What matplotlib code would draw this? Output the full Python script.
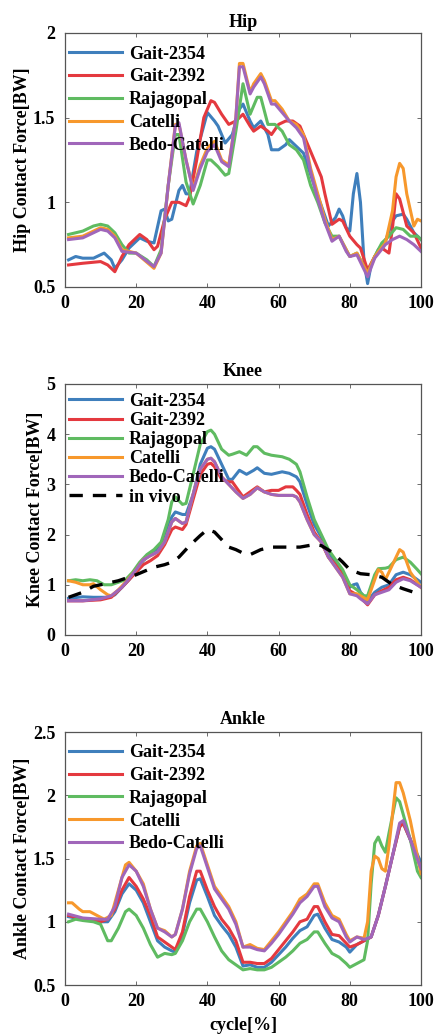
import matplotlib
matplotlib.use("Agg")
import matplotlib.pyplot as plt

plt.rcParams['font.family'] = ['Liberation Serif', 'DejaVu Serif']
plt.rcParams['font.weight'] = 'bold'

names = ['Gait-2354', 'Gait-2392', 'Rajagopal', 'Catelli', 'Bedo-Catelli']
colors = ['#3f7fbc', '#e4393f', '#5fbb61', '#f7982c', '#a066ba']

# ---- Hip ----
hip_blue_x = [1, 3, 5, 8, 10, 11, 13, 14, 16, 18, 21, 23, 25, 27, 28, 29, 30, 32, 33, 34, 35, 37, 40, 42, 43, 45, 47, 49, 50, 52, 53, 55, 57, 58, 60, 62, 63, 65, 67, 70, 72, 74, 76, 77, 78, 79, 80, 81, 82, 83, 84, 85, 86, 88, 90, 92, 93, 95, 96, 98, 100]
hip_blue_y = [0.66, 0.68, 0.67, 0.67, 0.69, 0.70, 0.66, 0.61, 0.66, 0.73, 0.79, 0.77, 0.76, 0.95, 0.96, 0.89, 0.90, 1.07, 1.10, 1.05, 1.05, 1.30, 1.53, 1.48, 1.45, 1.35, 1.40, 1.55, 1.58, 1.48, 1.44, 1.48, 1.40, 1.31, 1.31, 1.34, 1.37, 1.33, 1.29, 1.10, 0.98, 0.86, 0.91, 0.96, 0.92, 0.85, 0.83, 1.05, 1.17, 1.00, 0.65, 0.52, 0.63, 0.72, 0.77, 0.89, 0.92, 0.93, 0.90, 0.82, 0.78]
hip_red_x = [1, 5, 10, 12, 14, 16, 18, 21, 23, 25, 26, 28, 30, 32, 34, 35, 37, 39, 41, 42, 44, 46, 48, 50, 52, 53, 55, 57, 58, 60, 62, 64, 66, 68, 70, 72, 73, 75, 77, 78, 80, 82, 83, 85, 87, 89, 91, 92, 93, 94, 96, 98, 100]
hip_red_y = [0.63, 0.64, 0.65, 0.63, 0.59, 0.68, 0.75, 0.81, 0.78, 0.72, 0.74, 0.90, 1.00, 1.00, 0.98, 1.03, 1.25, 1.50, 1.60, 1.59, 1.52, 1.46, 1.48, 1.52, 1.45, 1.42, 1.45, 1.42, 1.40, 1.46, 1.48, 1.48, 1.45, 1.35, 1.25, 1.15, 1.05, 0.87, 0.90, 0.89, 0.80, 0.75, 0.73, 0.60, 0.68, 0.73, 0.70, 0.85, 1.05, 1.02, 0.86, 0.82, 0.73]
hip_green_x = [1, 5, 8, 10, 12, 14, 16, 18, 20, 23, 25, 27, 29, 31, 32, 34, 36, 38, 40, 41, 43, 45, 46, 48, 50, 52, 54, 55, 57, 59, 61, 63, 65, 67, 69, 71, 73, 75, 77, 79, 80, 82, 85, 87, 89, 91, 93, 95, 97, 99, 100]
hip_green_y = [0.81, 0.83, 0.86, 0.87, 0.86, 0.82, 0.75, 0.70, 0.70, 0.66, 0.62, 0.72, 1.10, 1.40, 1.40, 1.12, 0.99, 1.10, 1.25, 1.25, 1.21, 1.16, 1.17, 1.42, 1.70, 1.52, 1.62, 1.62, 1.46, 1.46, 1.42, 1.34, 1.31, 1.25, 1.10, 1.00, 0.88, 0.80, 0.80, 0.72, 0.68, 0.70, 0.58, 0.68, 0.76, 0.80, 0.85, 0.84, 0.80, 0.80, 0.78]
hip_orange_x = [1, 5, 10, 12, 14, 16, 20, 25, 27, 29, 31, 32, 34, 36, 38, 40, 42, 44, 46, 48, 49, 50, 52, 53, 55, 56, 58, 59, 61, 63, 65, 67, 69, 71, 73, 75, 77, 79, 80, 82, 85, 87, 90, 92, 93, 94, 95, 96, 98, 99, 100]
hip_orange_y = [0.79, 0.80, 0.85, 0.84, 0.80, 0.72, 0.70, 0.61, 0.70, 1.10, 1.46, 1.46, 1.25, 1.08, 1.22, 1.32, 1.36, 1.25, 1.22, 1.50, 1.82, 1.82, 1.65, 1.70, 1.76, 1.72, 1.60, 1.60, 1.55, 1.48, 1.46, 1.40, 1.20, 1.05, 0.90, 0.78, 0.80, 0.72, 0.68, 0.70, 0.58, 0.68, 0.76, 0.95, 1.15, 1.23, 1.20, 1.05, 0.86, 0.90, 0.89]
hip_purple_x = [1, 5, 10, 12, 14, 16, 20, 25, 27, 29, 31, 32, 34, 36, 38, 40, 42, 44, 46, 48, 49, 50, 52, 53, 55, 56, 58, 59, 61, 63, 65, 67, 69, 71, 73, 75, 77, 79, 80, 82, 85, 87, 90, 92, 94, 96, 98, 100]
hip_purple_y = [0.78, 0.79, 0.84, 0.83, 0.79, 0.71, 0.70, 0.62, 0.70, 1.10, 1.45, 1.47, 1.25, 1.07, 1.20, 1.30, 1.34, 1.24, 1.21, 1.50, 1.80, 1.80, 1.64, 1.68, 1.74, 1.70, 1.58, 1.58, 1.53, 1.48, 1.44, 1.38, 1.18, 1.02, 0.88, 0.77, 0.80, 0.71, 0.68, 0.69, 0.56, 0.67, 0.75, 0.78, 0.80, 0.78, 0.75, 0.71]

# ---- Knee ----
knee_blue_x = [1, 5, 8, 12, 14, 16, 18, 20, 22, 24, 26, 28, 30, 31, 33, 34, 36, 38, 40, 41, 42, 44, 46, 47, 49, 51, 53, 54, 56, 58, 61, 63, 65, 66, 68, 70, 72, 74, 76, 78, 80, 81, 82, 83, 85, 87, 89, 91, 93, 95, 97, 100]
knee_blue_y = [0.73, 0.76, 0.75, 0.75, 0.80, 0.95, 1.10, 1.30, 1.48, 1.60, 1.70, 1.95, 2.35, 2.45, 2.40, 2.40, 2.80, 3.40, 3.72, 3.75, 3.70, 3.40, 3.10, 3.10, 3.28, 3.20, 3.28, 3.33, 3.22, 3.20, 3.25, 3.22, 3.15, 3.05, 2.60, 2.20, 1.95, 1.65, 1.45, 1.25, 0.95, 1.00, 1.02, 0.85, 0.68, 0.85, 0.95, 1.00, 1.20, 1.25, 1.20, 1.05]
knee_red_x = [1, 5, 10, 13, 16, 18, 20, 22, 24, 26, 28, 30, 31, 33, 34, 36, 38, 40, 41, 42, 44, 46, 47, 49, 50, 52, 54, 56, 58, 60, 62, 64, 65, 66, 68, 70, 72, 74, 76, 78, 80, 82, 83, 85, 87, 89, 91, 93, 95, 97, 100]
knee_red_y = [0.68, 0.68, 0.70, 0.75, 0.95, 1.10, 1.25, 1.40, 1.48, 1.58, 1.80, 2.10, 2.15, 2.10, 2.20, 2.70, 3.20, 3.40, 3.42, 3.35, 3.10, 3.05, 3.05, 2.85, 2.75, 2.85, 2.95, 2.85, 2.88, 2.88, 2.95, 2.95, 2.88, 2.80, 2.40, 2.05, 1.85, 1.55, 1.40, 1.20, 0.88, 0.80, 0.75, 0.60, 0.80, 0.88, 0.95, 1.10, 1.15, 1.10, 0.95]
knee_green_x = [1, 3, 5, 7, 9, 11, 13, 15, 17, 19, 21, 23, 25, 27, 29, 30, 31, 33, 34, 36, 38, 40, 41, 42, 44, 46, 47, 49, 51, 53, 54, 56, 58, 61, 63, 65, 66, 68, 70, 72, 74, 76, 78, 80, 82, 84, 85, 87, 88, 90, 91, 93, 95, 97, 99, 100]
knee_green_y = [1.08, 1.10, 1.08, 1.10, 1.08, 1.00, 1.00, 1.05, 1.10, 1.25, 1.45, 1.60, 1.70, 1.85, 2.30, 2.65, 2.75, 2.60, 2.62, 3.20, 3.80, 4.05, 4.08, 4.00, 3.70, 3.58, 3.60, 3.65, 3.58, 3.75, 3.75, 3.62, 3.58, 3.55, 3.50, 3.40, 3.25, 2.75, 2.30, 2.00, 1.70, 1.50, 1.30, 1.00, 0.90, 0.78, 0.78, 1.20, 1.32, 1.33, 1.35, 1.50, 1.55, 1.45, 1.30, 1.22]
knee_orange_x = [1, 3, 5, 7, 8, 10, 12, 13, 15, 17, 20, 22, 24, 26, 28, 30, 31, 33, 34, 36, 38, 40, 41, 42, 44, 46, 48, 50, 52, 54, 56, 58, 60, 62, 64, 65, 66, 68, 70, 72, 74, 76, 78, 80, 82, 83, 85, 87, 88, 89, 90, 91, 93, 94, 95, 96, 97, 99, 100]
knee_orange_y = [1.08, 1.05, 1.00, 1.00, 1.02, 0.90, 0.80, 0.78, 0.90, 1.05, 1.30, 1.50, 1.58, 1.65, 1.85, 2.25, 2.32, 2.22, 2.25, 2.80, 3.30, 3.50, 3.52, 3.45, 3.15, 3.00, 2.85, 2.72, 2.80, 2.93, 2.85, 2.80, 2.78, 2.78, 2.78, 2.75, 2.65, 2.30, 2.00, 1.85, 1.55, 1.35, 1.15, 0.82, 0.82, 0.78, 0.70, 1.10, 1.30, 1.25, 1.10, 1.25, 1.55, 1.70, 1.65, 1.45, 1.25, 1.05, 0.95]
knee_purple_x = [1, 5, 10, 13, 16, 18, 20, 22, 24, 26, 28, 30, 31, 33, 34, 36, 38, 40, 41, 42, 44, 46, 48, 50, 52, 54, 56, 58, 60, 62, 64, 65, 66, 68, 70, 72, 74, 76, 78, 80, 82, 83, 85, 87, 89, 91, 93, 95, 97, 100]
knee_purple_y = [0.68, 0.68, 0.72, 0.78, 0.95, 1.12, 1.30, 1.50, 1.58, 1.65, 1.85, 2.25, 2.32, 2.22, 2.25, 2.80, 3.30, 3.50, 3.52, 3.45, 3.15, 3.00, 2.85, 2.72, 2.80, 2.93, 2.85, 2.80, 2.78, 2.78, 2.78, 2.75, 2.65, 2.30, 2.00, 1.85, 1.55, 1.35, 1.15, 0.82, 0.78, 0.72, 0.62, 0.80, 0.85, 0.90, 1.05, 1.12, 1.08, 0.95]
knee_vivo_x = [1, 5, 8, 10, 15, 20, 25, 28, 30, 32, 35, 38, 40, 42, 44, 46, 48, 50, 52, 55, 58, 62, 66, 70, 72, 75, 78, 80, 83, 86, 89, 92, 95, 98, 100]
knee_vivo_y = [0.75, 0.85, 0.97, 1.00, 1.08, 1.20, 1.35, 1.40, 1.45, 1.55, 1.78, 1.98, 2.10, 2.05, 1.90, 1.75, 1.70, 1.63, 1.60, 1.70, 1.75, 1.75, 1.75, 1.80, 1.78, 1.65, 1.45, 1.30, 1.22, 1.20, 1.15, 1.00, 0.92, 0.85, 0.80]

# ---- Ankle ----
ankle_blue_x = [1, 5, 10, 12, 14, 16, 18, 20, 22, 24, 26, 28, 30, 31, 33, 35, 37, 38, 40, 42, 44, 46, 48, 50, 52, 54, 56, 58, 60, 62, 64, 66, 68, 70, 71, 73, 75, 77, 79, 80, 82, 84, 86, 88, 90, 92, 94, 95, 97, 100]
ankle_blue_y = [1.04, 1.02, 1.00, 1.00, 1.08, 1.22, 1.30, 1.25, 1.15, 1.00, 0.85, 0.80, 0.77, 0.76, 0.90, 1.15, 1.33, 1.34, 1.20, 1.05, 0.97, 0.90, 0.80, 0.65, 0.66, 0.64, 0.64, 0.68, 0.74, 0.80, 0.87, 0.93, 0.96, 1.05, 1.06, 0.95, 0.86, 0.84, 0.80, 0.76, 0.82, 0.85, 0.88, 1.05, 1.28, 1.52, 1.75, 1.78, 1.65, 1.47]
ankle_red_x = [1, 5, 10, 12, 14, 16, 18, 20, 22, 24, 26, 28, 30, 31, 33, 35, 37, 38, 40, 42, 44, 46, 48, 50, 52, 54, 56, 58, 60, 62, 64, 66, 68, 70, 71, 73, 75, 77, 79, 80, 82, 84, 86, 88, 90, 92, 94, 95, 97, 100]
ankle_red_y = [1.05, 1.02, 1.00, 1.02, 1.10, 1.25, 1.35, 1.28, 1.18, 1.05, 0.88, 0.84, 0.80, 0.78, 0.92, 1.20, 1.40, 1.40, 1.25, 1.12, 1.02, 0.95, 0.85, 0.68, 0.68, 0.67, 0.67, 0.71, 0.78, 0.85, 0.92, 1.00, 1.02, 1.12, 1.12, 1.00, 0.90, 0.89, 0.83, 0.80, 0.82, 0.85, 0.88, 1.05, 1.28, 1.52, 1.75, 1.78, 1.65, 1.42]
ankle_green_x = [1, 3, 5, 8, 10, 12, 13, 15, 17, 18, 20, 22, 24, 26, 28, 30, 31, 33, 35, 37, 38, 40, 42, 44, 46, 48, 50, 52, 54, 56, 58, 60, 62, 64, 66, 68, 70, 71, 73, 75, 77, 79, 80, 82, 84, 85, 86, 87, 88, 89, 90, 91, 93, 94, 95, 97, 99, 100]
ankle_green_y = [1.00, 1.02, 1.01, 1.00, 0.98, 0.85, 0.85, 0.95, 1.08, 1.10, 1.05, 0.95, 0.82, 0.72, 0.75, 0.74, 0.75, 0.85, 1.00, 1.10, 1.10, 1.00, 0.88, 0.77, 0.70, 0.66, 0.62, 0.63, 0.62, 0.62, 0.64, 0.68, 0.72, 0.77, 0.83, 0.86, 0.92, 0.92, 0.83, 0.75, 0.72, 0.67, 0.64, 0.67, 0.70, 0.85, 1.30, 1.62, 1.67, 1.60, 1.55, 1.70, 1.98, 1.95, 1.85, 1.65, 1.40, 1.35]
ankle_orange_x = [1, 2, 4, 5, 7, 9, 11, 13, 15, 17, 18, 20, 22, 24, 26, 28, 30, 31, 33, 35, 37, 38, 40, 42, 44, 46, 48, 50, 52, 54, 56, 58, 60, 62, 64, 66, 68, 70, 71, 73, 75, 77, 79, 80, 82, 84, 85, 86, 87, 88, 89, 90, 91, 92, 93, 94, 95, 97, 100]
ankle_orange_y = [1.15, 1.15, 1.10, 1.08, 1.08, 1.05, 1.02, 1.05, 1.25, 1.45, 1.47, 1.40, 1.30, 1.10, 0.95, 0.93, 0.88, 0.90, 1.10, 1.40, 1.60, 1.62, 1.45, 1.28, 1.20, 1.12, 1.00, 0.80, 0.82, 0.79, 0.78, 0.85, 0.92, 1.00, 1.08, 1.18, 1.22, 1.30, 1.30, 1.15, 1.05, 1.02, 0.90, 0.85, 0.88, 0.87, 1.00, 1.40, 1.52, 1.50, 1.42, 1.40, 1.60, 1.85, 2.10, 2.10, 2.02, 1.80, 1.38]
ankle_purple_x = [1, 5, 10, 12, 14, 16, 18, 20, 22, 24, 26, 28, 30, 31, 33, 35, 37, 38, 40, 42, 44, 46, 48, 50, 52, 54, 56, 58, 60, 62, 64, 66, 68, 70, 71, 73, 75, 77, 79, 80, 82, 84, 86, 88, 90, 92, 94, 95, 97, 100]
ankle_purple_y = [1.06, 1.03, 1.02, 1.02, 1.12, 1.35, 1.45, 1.40, 1.28, 1.10, 0.95, 0.92, 0.88, 0.90, 1.10, 1.38, 1.58, 1.60, 1.43, 1.26, 1.18, 1.10, 0.98, 0.80, 0.80, 0.78, 0.77, 0.83, 0.90, 0.98, 1.06, 1.15, 1.20, 1.28, 1.28, 1.12, 1.03, 1.00, 0.88, 0.84, 0.88, 0.86, 0.88, 1.05, 1.28, 1.52, 1.78, 1.80, 1.65, 1.42]

panels = [
    ('Hip', 'Hip Contact Force[BW]', [0.5, 2], [0.5, 1, 1.5, 2], ['0.5', '1', '1.5', '2'],
     [(hip_blue_x, hip_blue_y), (hip_red_x, hip_red_y), (hip_green_x, hip_green_y),
      (hip_orange_x, hip_orange_y), (hip_purple_x, hip_purple_y)], None),
    ('Knee', 'Knee Contact Force[BW]', [0, 5], [0, 1, 2, 3, 4, 5], ['0', '1', '2', '3', '4', '5'],
     [(knee_blue_x, knee_blue_y), (knee_red_x, knee_red_y), (knee_green_x, knee_green_y),
      (knee_orange_x, knee_orange_y), (knee_purple_x, knee_purple_y)], (knee_vivo_x, knee_vivo_y)),
    ('Ankle', 'Ankle Contact Force[BW]', [0.5, 2.5], [0.5, 1, 1.5, 2, 2.5], ['0.5', '1', '1.5', '2', '2.5'],
     [(ankle_blue_x, ankle_blue_y), (ankle_red_x, ankle_red_y), (ankle_green_x, ankle_green_y),
      (ankle_orange_x, ankle_orange_y), (ankle_purple_x, ankle_purple_y)], None),
]

fig = plt.figure(figsize=(4.35, 10.36), dpi=100)
boxes = [[0.1494, 0.7230, 0.8184, 0.2452],
         [0.1494, 0.3871, 0.8184, 0.2423],
         [0.1494, 0.0492, 0.8184, 0.2442]]
title_pads = [4, 6, 6]
legend_top = [0.95, 0.965, 0.952]

fs = 13
for i, (title, ylab, ylim, yt, ytl, series, vivo) in enumerate(panels):
    ax = fig.add_axes(boxes[i])
    for (xs, ys), c, n in zip(series, colors, names):
        ax.plot(xs, ys, color=c, lw=2.2, label=n)
    if vivo is not None:
        ax.plot(vivo[0], vivo[1], color='black', lw=2.4, ls=(0, (4, 3)), label='in vivo')
    ax.set_xlim(0, 100)
    ax.set_ylim(ylim)
    ax.set_xticks([0, 20, 40, 60, 80, 100])
    ax.set_xticklabels(['0', '20', '40', '60', '80', '100'], fontsize=fs, fontweight='bold')
    ax.set_yticks(yt)
    ax.set_yticklabels(ytl, fontsize=fs, fontweight='bold')
    ax.tick_params(axis='y', pad=7)
    ax.tick_params(axis='x', pad=6)
    ax.tick_params(direction='in', top=True, right=True, length=3, width=0.6, color='#555555')
    for sp in ax.spines.values():
        sp.set_color('#555555')
        sp.set_linewidth(0.9)
    ax.set_title(title, fontsize=fs, fontweight='bold', pad=title_pads[i])
    ax.set_ylabel(ylab, fontsize=fs, fontweight='bold', labelpad=1.5)
    spacing = 0.12 if vivo is not None else 0.32
    ax.legend(loc='upper left', bbox_to_anchor=(0.012, legend_top[i]), frameon=False, fontsize=fs,
              handlelength=2.9, handletextpad=0.4, labelspacing=spacing,
              borderaxespad=0, borderpad=0)
    if title == 'Ankle':
        ax.set_xlabel('cycle[%]', fontsize=fs, fontweight='bold', labelpad=5)

fig.savefig('out.png', dpi=100)
